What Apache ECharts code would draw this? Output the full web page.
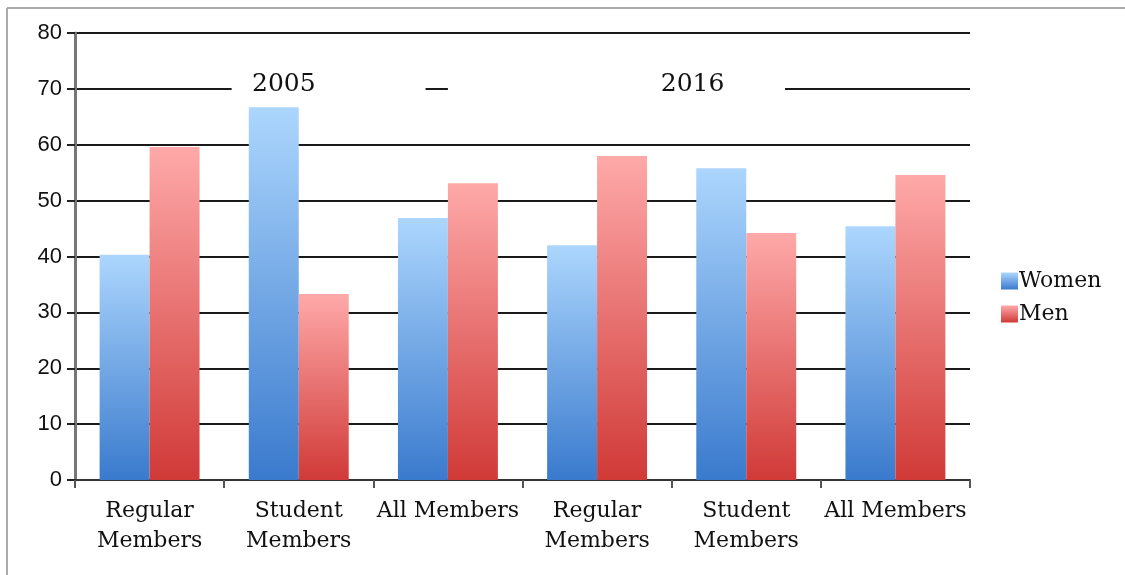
<!DOCTYPE html>
<html>
<head>
<meta charset="utf-8">
<script src="https://cdn.jsdelivr.net/npm/echarts@6/dist/echarts.min.js"></script>
<style>
html,body{margin:0;padding:0;background:#fff;}
#chart{width:1125px;height:575px;}
</style>
</head>
<body>
<div id="chart"></div>
<script>
const categories = ['Regular\nMembers', 'Student\nMembers', 'All Members', 'Regular\nMembers', 'Student\nMembers', 'All Members'];
const women = [40.3, 66.7, 46.9, 42.0, 55.8, 45.4];
const men = [59.6, 33.3, 53.1, 58.0, 44.2, 54.6];
const yTicks = { min: 0, max: 80, interval: 10 };
// year annotations: label, label position (in category units / value units), masked span
const yearLabels = ['2005', '2016'];
const yearLabelX = [1.40, 4.14];
const yearLabelY = 70.8;
const yearMaskX = [[1.05, 2.35], [2.50, 4.76]];
const yearMaskY = [72, 68.2];

const chart = echarts.init(document.getElementById('chart'), null, { renderer: 'canvas' });

function grad(top, bottom) {
  return new echarts.graphic.LinearGradient(0, 0, 0, 1, [
    { offset: 0, color: top },
    { offset: 1, color: bottom }
  ]);
}

const serif = 'DejaVu Serif';
const sans = 'Liberation Sans';
const ink = '#111';

const option = {
  backgroundColor: '#fff',
  animation: false,
  graphic: [
    { type: 'line', shape: { x1: 7, y1: 8, x2: 1125, y2: 8 }, style: { stroke: '#aaaaaa', lineWidth: 2 } },
    { type: 'line', shape: { x1: 7, y1: 8, x2: 7, y2: 575 }, style: { stroke: '#aaaaaa', lineWidth: 2 } }
  ],
  grid: { left: 75, right: 155, top: 33, bottom: 95 },
  legend: {
    orient: 'vertical',
    left: 996,
    top: 265,
    itemWidth: 17,
    itemHeight: 17,
    itemGap: 11,
    icon: 'rect',
    data: ['Women', 'Men'],
    textStyle: { fontFamily: serif, fontSize: 22, color: ink, padding: [0, 0, 0, -4] }
  },
  xAxis: [
    {
      type: 'category',
      data: categories,
      axisLine: { lineStyle: { color: '#333', width: 2 } },
      axisTick: { show: true, length: 8, lineStyle: { color: '#555', width: 2 } },
      axisLabel: { fontFamily: serif, fontSize: 22, color: ink, lineHeight: 30, margin: 16, interval: 0 }
    },
    { type: 'value', min: 0, max: 6, show: false }
  ],
  yAxis: {
    type: 'value',
    min: yTicks.min,
    max: yTicks.max,
    interval: yTicks.interval,
    axisLine: { show: true, lineStyle: { color: '#777', width: 3 } },
    axisTick: { show: true, length: 8, lineStyle: { color: '#222', width: 2 } },
    axisLabel: { fontFamily: sans, fontSize: 22, color: ink, margin: 13 },
    splitLine: { show: true, lineStyle: { color: '#1a1a1a', width: 2 } }
  },
  series: [
    {
      name: 'Women',
      type: 'bar',
      data: women,
      barGap: '0%',
      barCategoryGap: '33%',
      itemStyle: { color: grad('#acd6fd', '#3a7acd') }
    },
    {
      name: 'Men',
      type: 'bar',
      data: men,
      barGap: '0%',
      barCategoryGap: '33%',
      itemStyle: { color: grad('#fea9a9', '#d03a37') }
    },
    {
      name: 'years',
      type: 'line',
      xAxisIndex: 1,
      data: [],
      silent: true,
      markArea: {
        silent: true,
        itemStyle: { color: '#ffffff' },
        data: yearMaskX.map(r => [{ xAxis: r[0], yAxis: yearMaskY[0] }, { xAxis: r[1], yAxis: yearMaskY[1] }])
      },
      markPoint: {
        silent: true,
        symbol: 'circle',
        symbolSize: 0,
        label: { show: true, position: 'inside', fontFamily: serif, fontSize: 25, color: ink, formatter: p => p.name },
        data: yearLabels.map((t, i) => ({ name: t, coord: [yearLabelX[i], yearLabelY] }))
      }
    }
  ]
};
chart.setOption(option);
</script>
</body>
</html>
